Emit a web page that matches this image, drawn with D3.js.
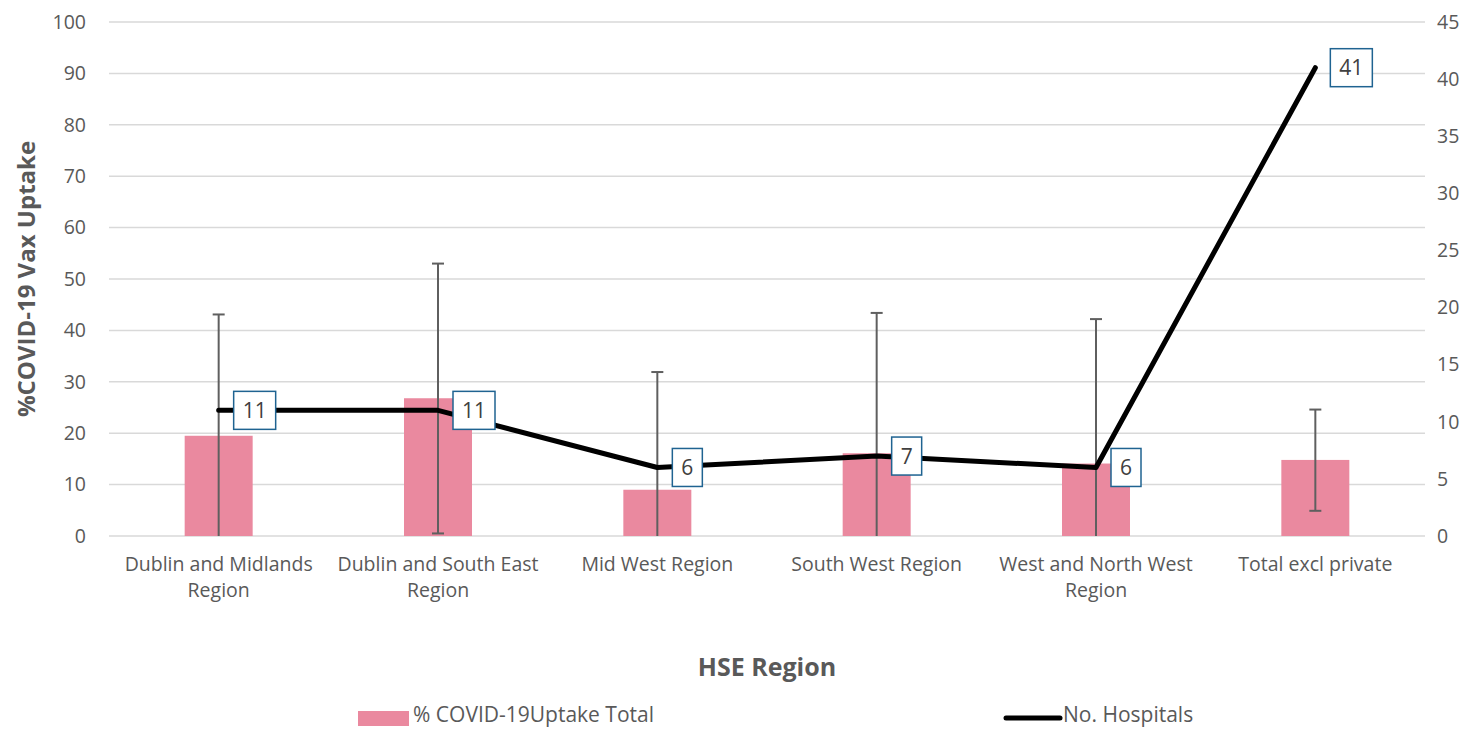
<!DOCTYPE html>
<html>
<head>
<meta charset="utf-8">
<script src="https://cdn.jsdelivr.net/npm/d3@7"></script>
<style>
  body { margin: 0; background: #fff; }
  svg text { font-family: "Open Sans", Roboto, sans-serif; }
</style>
</head>
<body>
<div id="chart"></div>
<script>
// data
const regions = [
    ['Dublin and Midlands', 'Region'],
    ['Dublin and South East', 'Region'],
    ['Mid West Region'],
    ['South West Region'],
    ['West and North West', 'Region'],
    ['Total excl private']
];
const uptake = [19.5, 26.8, 9.0, 16.1, 14.1, 14.8];
const uptakeLow = [0, 0.5, 0, 0, 0, 4.9];
const uptakeHigh = [43.1, 53.0, 31.9, 43.4, 42.2, 24.6];
const hospitals = [11, 11, 6, 7, 6, 41];
const leftTicks = [0, 10, 20, 30, 40, 50, 60, 70, 80, 90, 100];
const rightTicks = [0, 5, 10, 15, 20, 25, 30, 35, 40, 45];

const width = 1475, height = 730;
const margin = { left: 109, right: 50, top: 22, bottom: 194 };

const svg = d3.select('#chart').append('svg')
    .attr('width', width)
    .attr('height', height);

const x = d3.scaleBand()
    .domain(d3.range(regions.length))
    .range([margin.left, width - margin.right]);

const yL = d3.scaleLinear().domain([0, 100]).range([height - margin.bottom, margin.top]);
const yR = d3.scaleLinear().domain([0, 45]).range([height - margin.bottom, margin.top]);

// gridlines
svg.append('g')
    .selectAll('line')
    .data(leftTicks)
    .join('line')
    .attr('x1', margin.left)
    .attr('x2', width - margin.right)
    .attr('y1', d => yL(d))
    .attr('y2', d => yL(d))
    .attr('stroke', '#d9d9d9')
    .attr('stroke-width', 1.5);

// left axis labels
svg.append('g')
    .selectAll('text')
    .data(leftTicks)
    .join('text')
    .attr('x', 86)
    .attr('y', d => yL(d))
    .attr('dy', '0.35em')
    .attr('text-anchor', 'end')
    .attr('font-size', '19.5px')
    .attr('fill', '#595959')
    .text(d => d);

// right axis labels
svg.append('g')
    .selectAll('text')
    .data(rightTicks)
    .join('text')
    .attr('x', 1437)
    .attr('y', d => yR(d))
    .attr('dy', '0.35em')
    .attr('text-anchor', 'start')
    .attr('font-size', '19.5px')
    .attr('fill', '#595959')
    .text(d => d);

// bars
const barW = x.bandwidth() * 0.31;
svg.append('g')
    .selectAll('rect')
    .data(uptake)
    .join('rect')
    .attr('x', (d, i) => x(i) + x.bandwidth() / 2 - barW / 2)
    .attr('y', d => yL(d))
    .attr('width', barW)
    .attr('height', d => yL(0) - yL(d))
    .attr('fill', '#ea899f');

// error bars
const eb = svg.append('g').attr('stroke', '#5f5f5f').attr('stroke-width', 2);
regions.forEach((r, i) => {
    const cx = x(i) + x.bandwidth() / 2;
    eb.append('line')
        .attr('x1', cx).attr('x2', cx)
        .attr('y1', yL(uptakeLow[i])).attr('y2', yL(uptakeHigh[i]));
    [uptakeLow[i], uptakeHigh[i]].forEach(v => {
        if (v <= 0) return;
        eb.append('line')
            .attr('x1', cx - 6).attr('x2', cx + 6)
            .attr('y1', yL(v)).attr('y2', yL(v));
    });
});

// hospitals line
const line = d3.line()
    .x((d, i) => x(i) + x.bandwidth() / 2)
    .y(d => yR(d));

svg.append('path')
    .datum(hospitals)
    .attr('d', line)
    .attr('fill', 'none')
    .attr('stroke', '#000')
    .attr('stroke-width', 5)
    .attr('stroke-linecap', 'round')
    .attr('stroke-linejoin', 'round');

// data labels
const lab = svg.append('g');
hospitals.forEach((v, i) => {
    const cx = x(i) + x.bandwidth() / 2 + 15;
    const cy = yR(v);
    const txt = String(v);
    const w = txt.length > 1 ? 42 : 30;
    lab.append('rect')
        .attr('x', cx)
        .attr('y', cy - 19)
        .attr('width', w)
        .attr('height', 38)
        .attr('fill', '#fff')
        .attr('stroke', '#1f6391')
        .attr('stroke-width', 1.5);
    lab.append('text')
        .attr('x', cx + w / 2)
        .attr('y', cy)
        .attr('dy', '0.36em')
        .attr('text-anchor', 'middle')
        .attr('font-size', '21px')
        .attr('fill', '#404040')
        .text(txt);
});

// category labels
regions.forEach((r, i) => {
    const t = svg.append('text')
        .attr('x', x(i) + x.bandwidth() / 2)
        .attr('y', 564)
        .attr('text-anchor', 'middle')
        .attr('font-size', '19.5px')
        .attr('fill', '#595959');
    r.forEach((s, j) => {
        t.append('tspan')
            .attr('x', x(i) + x.bandwidth() / 2)
            .attr('y', 564 + j * 26)
            .attr('dy', '0.35em')
            .text(s);
    });
});

// axis titles
svg.append('text')
    .attr('transform', `translate(27,${(yL(0) + yL(100)) / 2}) rotate(-90)`)
    .attr('dy', '0.35em')
    .attr('text-anchor', 'middle')
    .attr('font-size', '24px')
    .attr('font-weight', 'bold')
    .attr('fill', '#595959')
    .text('%COVID-19 Vax Uptake');

svg.append('text')
    .attr('x', (margin.left + width - margin.right) / 2)
    .attr('y', 667)
    .attr('dy', '0.35em')
    .attr('text-anchor', 'middle')
    .attr('font-size', '25px')
    .attr('font-weight', 'bold')
    .attr('fill', '#595959')
    .text('HSE Region');

// legend
const lg = svg.append('g');
lg.append('rect')
    .attr('x', 358).attr('y', 711)
    .attr('width', 51).attr('height', 15)
    .attr('fill', '#ea899f');
lg.append('text')
    .attr('x', 413).attr('y', 715)
    .attr('dy', '0.35em')
    .attr('font-size', '21px')
    .attr('fill', '#595959')
    .text('% COVID-19Uptake Total');
lg.append('line')
    .attr('x1', 1006).attr('x2', 1060)
    .attr('y1', 718).attr('y2', 718)
    .attr('stroke', '#000')
    .attr('stroke-width', 5)
    .attr('stroke-linecap', 'round');
lg.append('text')
    .attr('x', 1063).attr('y', 715)
    .attr('dy', '0.35em')
    .attr('font-size', '21px')
    .attr('fill', '#595959')
    .text('No. Hospitals');
</script>
</body>
</html>
